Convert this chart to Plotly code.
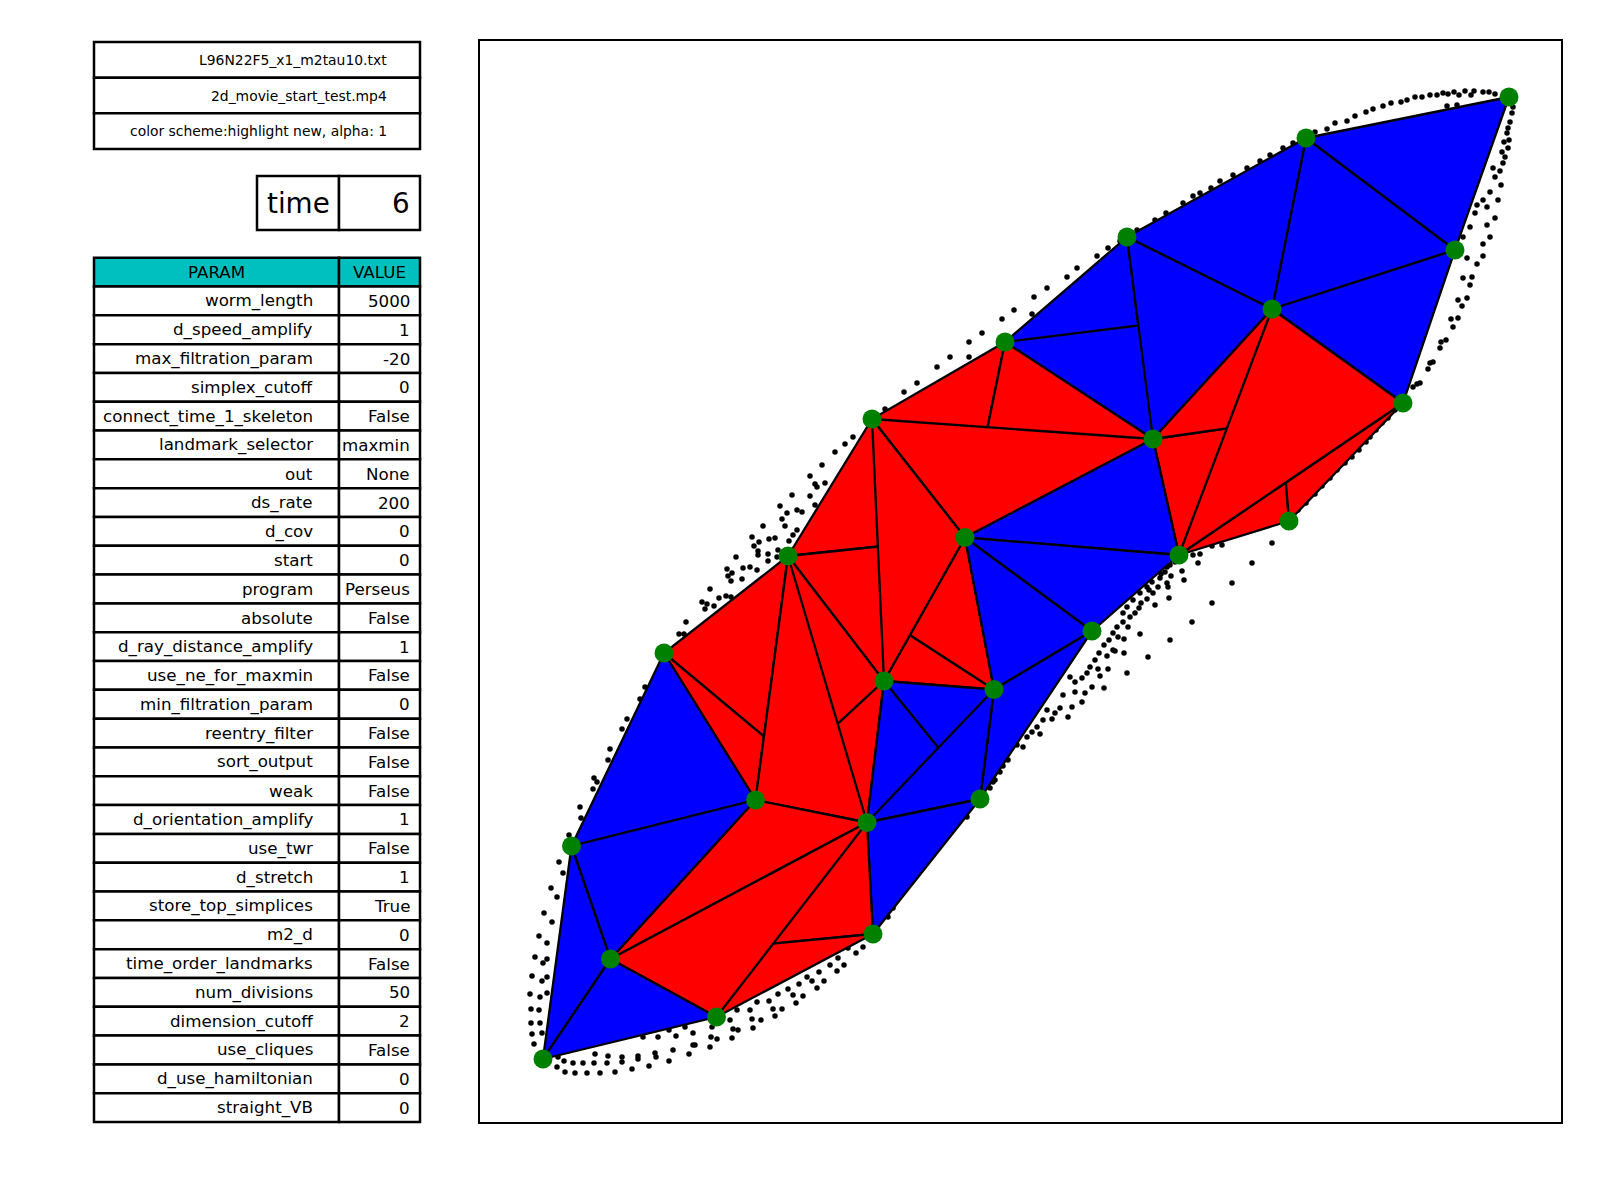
import plotly.graph_objects as go

# ---------------- data ----------------
header_rows = ["L96N22F5_x1_m2tau10.txt", "2d_movie_start_test.mp4",
               "color scheme:highlight new, alpha: 1"]
time_label = "time"
time_value = "6"
param_header = ["PARAM", "VALUE"]
param_names = ["worm_length", "d_speed_amplify", "max_filtration_param", "simplex_cutoff",
               "connect_time_1_skeleton", "landmark_selector", "out", "ds_rate", "d_cov",
               "start", "program", "absolute", "d_ray_distance_amplify", "use_ne_for_maxmin",
               "min_filtration_param", "reentry_filter", "sort_output", "weak",
               "d_orientation_amplify", "use_twr", "d_stretch", "store_top_simplices", "m2_d",
               "time_order_landmarks", "num_divisions", "dimension_cutoff", "use_cliques",
               "d_use_hamiltonian", "straight_VB"]
param_values = ["5000", "1", "-20", "0", "False", "maxmin", "None", "200", "0", "0",
                "Perseus", "False", "1", "False", "0", "False", "False", "False", "1",
                "False", "1", "True", "0", "False", "50", "2", "False", "0", "0"]

landmark_x = [1509, 1306, 1127, 1455, 1272, 1005, 1403, 872, 1153, 1289, 965, 1179, 788,
              1092, 664, 884, 994, 755.5, 980, 867, 571.5, 873, 610.5, 716.5, 543]
landmark_y = [97, 138, 237, 250, 309, 342, 403, 419, 439, 521, 537.5, 555, 556,
              631, 653, 681, 689.5, 800, 799, 822.5, 846, 934, 959, 1017, 1059]

triangles = [(0, 1, 3), (1, 3, 4), (3, 4, 6), (1, 2, 4), (2, 5, 8), (5, 4, 8), (2, 4, 8),
             (4, 9, 11), (4, 6, 9), (8, 6, 11), (4, 8, 6), (4, 6, 11),
             (5, 7, 10), (5, 8, 10), (7, 8, 10),
             (12, 15, 16), (12, 16, 10), (7, 12, 10), (12, 15, 10), (7, 10, 15),
             (12, 14, 19), (14, 17, 19), (12, 15, 17), (15, 17, 19), (12, 17, 19),
             (8, 10, 11), (10, 11, 13), (10, 13, 16), (13, 16, 18), (15, 16, 18),
             (15, 18, 19), (16, 18, 19), (18, 19, 21),
             (17, 19, 22), (19, 21, 22), (21, 22, 23), (19, 22, 23),
             (14, 17, 20), (17, 20, 22), (20, 22, 24), (22, 23, 24)]
triangle_colors = ["blue"] * 7 + ["red"] * 18 + ["blue"] * 8 + ["red"] * 4 + ["blue"] * 4

cloud_points = [
    # top arc
    (1315, 132), (1327, 129), (1335, 123), (1347, 121), (1355, 116), (1366, 112), (1373, 109),
    (1383, 106), (1391, 103), (1401, 102), (1407, 100), (1415, 97), (1422, 97), (1430, 95),
    (1437, 95), (1443, 93), (1448, 94), (1454, 92), (1459, 95), (1465, 91), (1471, 95),
    (1474, 91), (1483, 92), (1489, 92), (1495, 94), (1447, 106), (1457, 105),
    # right side
    (1513, 107), (1512, 113), (1510, 122), (1508, 128), (1507, 133), (1509, 140), (1504, 142),
    (1508, 148), (1502, 152), (1505, 157), (1503, 163), (1493, 168), (1500, 171), (1495, 177),
    (1501, 185), (1490, 192), (1498, 200), (1483, 200), (1487, 207), (1477, 205), (1495, 218),
    (1475, 213), (1487, 225), (1470, 227), (1490, 237), (1463, 237), (1483, 244), (1483, 256),
    (1467, 258), (1477, 264), (1463, 278), (1472, 277), (1470, 285), (1458, 300), (1467, 298),
    (1462, 306), (1451, 319), (1458, 318), (1453, 327), (1441, 342), (1446, 340), (1440, 348),
    (1430, 363), (1433, 362), (1428, 369), (1420, 383), (1417, 384), (1413, 387),
    (1395, 410), (1388, 418), (1382, 423), (1376, 430), (1370, 437), (1366, 442), (1359, 450),
    (1352, 457), (1345, 463), (1337, 470), (1330, 478), (1322, 486), (1315, 494), (1306, 503),
    (1298, 510),
    # top boundary
    (1211, 188), (1220, 181), (1233, 175), (1247, 168), (1260, 161), (1270, 155), (1283, 148),
    (1293, 143), (1200, 193), (1193, 196), (1183, 203), (1166, 213), (1155, 220), (1137, 230),
    (1120, 241), (1108, 248), (1097, 256), (1077, 268), (1067, 277), (1047, 288), (1034, 297),
    (1032, 314), (1014, 310), (1002, 319), (982, 333), (969, 342), (969, 357), (950, 357),
    (937, 367), (917, 383), (904, 392), (885, 409), (853, 437), (845, 444), (835, 452),
    # upper-left cloud
    (822, 465), (810, 476), (815, 484), (825, 483), (817, 487), (792, 495), (810, 496),
    (815, 505), (780, 506), (787, 513), (797, 510), (802, 512), (782, 519), (785, 526),
    (797, 530), (763, 526), (793, 535), (752, 537), (759, 542), (769, 539), (775, 538),
    (789, 541), (754, 546), (758, 551), (768, 554), (758, 555), (778, 550), (777, 557),
    (736, 557), (768, 561), (750, 567), (743, 568), (757, 570), (727, 569), (732, 573),
    (728, 576), (742, 579), (731, 581), (710, 589), (719, 598), (726, 596), (731, 597),
    (702, 602), (707, 604), (705, 609), (714, 606), (686, 622), (679, 634), (684, 634),
    # left boundary
    (645, 687), (640, 699), (627, 719), (622, 729), (610, 749), (608, 760), (594, 778),
    (597, 782), (593, 789), (580, 807), (581, 818), (569, 835), (559, 862), (563, 873),
    (551, 888), (557, 897), (544, 913), (552, 922), (539, 936), (547, 943), (535, 957),
    (543, 963), (547, 959), (532, 976), (542, 981), (547, 977), (530, 994), (540, 997),
    (547, 993), (531, 1009), (539, 1010), (531, 1023), (540, 1023), (532, 1034), (542, 1033),
    (534, 1044),
    # bottom boundary
    (557, 1067), (565, 1072), (558, 1057), (564, 1061), (573, 1063), (575, 1073), (583, 1063),
    (587, 1073), (595, 1054), (594, 1063), (600, 1073), (607, 1063), (608, 1056), (615, 1072),
    (622, 1057), (622, 1062), (632, 1069), (638, 1056), (638, 1059), (643, 1037), (649, 1066),
    (655, 1053), (656, 1057), (658, 1037), (669, 1061), (673, 1050), (676, 1036), (669, 1030),
    (685, 1027), (689, 1054), (693, 1045), (695, 1045), (693, 1033), (710, 1047), (711, 1037),
    (717, 1039), (712, 1027), (730, 1020), (732, 1038), (733, 1029), (738, 1030), (737, 1010),
    (750, 1010), (752, 1019), (753, 1028), (761, 1020), (757, 1002), (769, 1001), (773, 1009),
    (775, 1016), (782, 1009), (778, 994), (788, 989), (793, 995), (796, 1003), (803, 996),
    (799, 984), (807, 977), (812, 981), (817, 988), (824, 981), (819, 972), (830, 965),
    (837, 971), (844, 965), (838, 958), (856, 953), (863, 947), (848, 948), (893, 908),
    (888, 917), (967, 817), (993, 782),
    # lower-right cloud
    (1193, 555), (1200, 554), (1222, 545), (1212, 546), (1198, 563), (1182, 571), (1184, 580),
    (1272, 543), (1252, 563), (1232, 583), (1212, 603), (1192, 622), (1170, 640), (1148, 657),
    (1127, 673), (1170, 565), (1165, 572), (1171, 576), (1160, 578), (1167, 583), (1158, 587),
    (1168, 587), (1153, 593), (1149, 590), (1169, 598), (1147, 599), (1155, 605), (1141, 603),
    (1139, 608), (1135, 613), (1130, 617), (1123, 613), (1128, 627), (1123, 622), (1117, 627),
    (1113, 633), (1140, 634), (1124, 639), (1118, 637), (1109, 640), (1104, 645), (1113, 650),
    (1115, 651), (1124, 653), (1107, 656), (1099, 653), (1095, 660), (1090, 667), (1098, 669),
    (1108, 669), (1087, 673), (1100, 676), (1082, 678), (1092, 687), (1104, 688), (1075, 682),
    (1085, 693), (1070, 677), (1075, 692), (1082, 702), (1063, 695), (1072, 707), (1060, 708),
    (1068, 717), (1055, 713), (1047, 710), (1052, 719), (1043, 720), (1037, 727), (1040, 734),
    (1032, 732), (1027, 737), (1023, 747), (1017, 745), (1008, 760), (1003, 766), (1000, 772),
    (995, 780), (990, 788), (1127, 607), (1133, 600), (1140, 593), (1147, 587), (1152, 582),
    (1161, 574), (1167, 567), (1175, 562),
]
cloud_x = [p[0] for p in cloud_points]
cloud_y = [p[1] for p in cloud_points]

# ---------------- figure ----------------
W, H = 1600, 1200
FONT = "DejaVu Sans"
fig = go.Figure()

fig.add_trace(go.Scatter(x=cloud_x, y=cloud_y, mode="markers",
                         marker=dict(size=5.5, color="black", line=dict(width=0)),
                         hoverinfo="skip", showlegend=False))

for tri, col in zip(triangles, triangle_colors):
    xs = [landmark_x[i] for i in tri] + [landmark_x[tri[0]]]
    ys = [landmark_y[i] for i in tri] + [landmark_y[tri[0]]]
    fig.add_trace(go.Scatter(x=xs, y=ys, mode="lines", fill="toself", fillcolor=col,
                             line=dict(color="black", width=2.3), hoverinfo="skip",
                             showlegend=False))

fig.add_trace(go.Scatter(x=landmark_x, y=landmark_y, mode="markers",
                         marker=dict(size=19, color="#008000", line=dict(width=0)),
                         hoverinfo="skip", showlegend=False))


def px(x):
    return x / W


def py(y):
    return 1 - y / H


shapes = []
annotations = []


def cell(x0, x1, y0, y1, fill="white"):
    shapes.append(dict(type="rect", xref="paper", yref="paper", x0=px(x0), x1=px(x1),
                       y0=py(y1), y1=py(y0), fillcolor=fill,
                       line=dict(color="black", width=2.5), layer="above"))


def text(s, x, y, size, anchor):
    annotations.append(dict(text=s, xref="paper", yref="paper", x=px(x), y=py(y),
                            xanchor=anchor, yanchor="middle", showarrow=False,
                            font=dict(family=FONT, size=size, color="black")))


# header table
hx0, hx1 = 94, 420
hy = [42, 77.7, 113.3, 149]
for i, s in enumerate(header_rows):
    cell(hx0, hx1, hy[i], hy[i + 1])
    text(s, hx1 - 0.1 * (hx1 - hx0) + 2, (hy[i] + hy[i + 1]) / 2, 13.9, "right")

# time table
tx = [257, 339, 420]
ty0, ty1 = 176, 230
cell(tx[0], tx[1], ty0, ty1)
cell(tx[1], tx[2], ty0, ty1)
text(time_label, (tx[0] + tx[1]) / 2, (ty0 + ty1) / 2, 27.8, "center")
text(time_value, tx[2] - 0.1 * (tx[2] - tx[1]), (ty0 + ty1) / 2, 27.8, "right")

# param table
px0, pxm, px1 = 94, 339, 420
top = 257.7
rh = (1122 - top) / (len(param_names) + 1)
cell(px0, pxm, top, top + rh, fill="#00bfbf")
cell(pxm, px1, top, top + rh, fill="#00bfbf")
text(param_header[0], (px0 + pxm) / 2, top + rh / 2, 16.7, "center")
text(param_header[1], (pxm + px1) / 2, top + rh / 2, 16.7, "center")
for i, (n, v) in enumerate(zip(param_names, param_values)):
    y0 = top + (i + 1) * rh
    y1 = y0 + rh
    cell(px0, pxm, y0, y1)
    cell(pxm, px1, y0, y1)
    text(n, pxm - 0.1 * (pxm - px0), (y0 + y1) / 2, 16.7, "right")
    text(v, px1 - 0.1 * (px1 - pxm), (y0 + y1) / 2, 16.7, "right")

ax_common = dict(showgrid=False, zeroline=False, showticklabels=False, ticks="",
                 showline=True, mirror=True, linecolor="black", linewidth=1.8)
fig.update_layout(
    width=W, height=H, margin=dict(l=0, r=0, t=0, b=0),
    paper_bgcolor="white", plot_bgcolor="white", showlegend=False,
    xaxis=dict(domain=[480 / W, 1561 / W], range=[480, 1561], **ax_common),
    yaxis=dict(domain=[1 - 1122 / H, 1 - 41 / H], range=[1122, 41], **ax_common),
    shapes=shapes, annotations=annotations,
    font=dict(family=FONT),
)

fig.write_html("out.html")
